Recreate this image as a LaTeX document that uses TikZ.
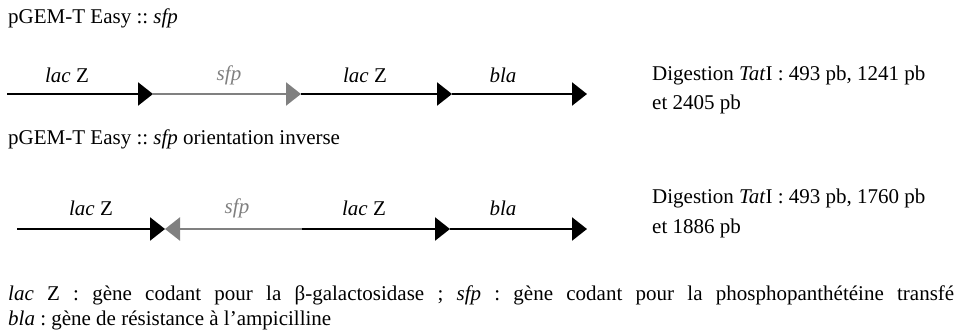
\documentclass[tikz,border=0pt]{standalone}
\usepackage{fontspec}
\setmainfont{Liberation Serif}
\usetikzlibrary{arrows.meta}
\definecolor{sfpgrey}{gray}{0.5}
\tikzset{
  txt/.style={inner sep=0pt, font=\fontsize{21}{25}\selectfont\frenchspacing},
  lbl/.style={txt, anchor=center},
  seg/.style={line width=2.5pt, -{Triangle[length=15pt,width=23pt]}},
  blackseg/.style={seg, draw=black, fill=black},
  greyseg/.style={seg, draw=sfpgrey, fill=sfpgrey},
}
\begin{document}
\begin{tikzpicture}[x=1pt,y=-1pt]
\useasboundingbox (0,0) rectangle (954,335);
% titles
\node[txt, anchor=west] (t1) at (8,18) {pGEM-T Easy :: \textit{sfp}};
\node[txt, anchor=west] (t2) at (8,139) {pGEM-T Easy :: \textit{sfp} orientation inverse};
% row 1
\coordinate (a0) at (7,94);
\coordinate (a1) at (153,94);
\coordinate (a2) at (301,94);
\coordinate (a3) at (452,94);
\coordinate (a4) at (587,94);
\draw[blackseg] (a0) -- (a1);
\draw[greyseg] (a1) -- (a2);
\draw[blackseg] (a2) -- (a3);
\draw[blackseg] (a3) -- (a4);
\node[lbl] (l1) at (67,75) {\textit{lac} Z};
\node[lbl, text=sfpgrey] (l2) at (229,75) {\textit{sfp}};
\node[lbl] (l3) at (365,75) {\textit{lac} Z};
\node[lbl] (l4) at (503,75) {\textit{bla}};
\node[txt, anchor=west] (d1) at (652,75) {Digestion \textit{Tat}I : 493 pb, 1241 pb};
\node[txt, anchor=west] (e1) at (652,104) {et 2405 pb};
% row 2
\coordinate (b0) at (17,229);
\coordinate (b1) at (165,229);
\coordinate (b2) at (302,229);
\coordinate (b3) at (450,229);
\coordinate (b4) at (587,229);
\draw[blackseg] (b0) -- (b1);
\draw[greyseg] (b2) -- (b1);
\draw[blackseg] (b2) -- (b3);
\draw[blackseg] (b3) -- (b4);
\node[lbl] (m1) at (91,208) {\textit{lac} Z};
\node[lbl, text=sfpgrey] (m2) at (237,208) {\textit{sfp}};
\node[lbl] (m3) at (364,208) {\textit{lac} Z};
\node[lbl] (m4) at (503,208) {\textit{bla}};
\node[txt, anchor=west] (d2) at (652,198) {Digestion \textit{Tat}I : 493 pb, 1760 pb};
\node[txt, anchor=west] (e2) at (652,228) {et 1886 pb};
% legend
\node[txt, anchor=west] (g1) at (8,295) {\makebox[946pt][s]{\textit{lac} Z : gène codant pour la β-galactosidase ; \textit{sfp} : gène codant pour la phosphopanthétéine transfé}};
\node[txt, anchor=west] (g2) at (8,320) {\textit{bla} : gène de résistance à l’ampicilline};
\end{tikzpicture}
\end{document}
